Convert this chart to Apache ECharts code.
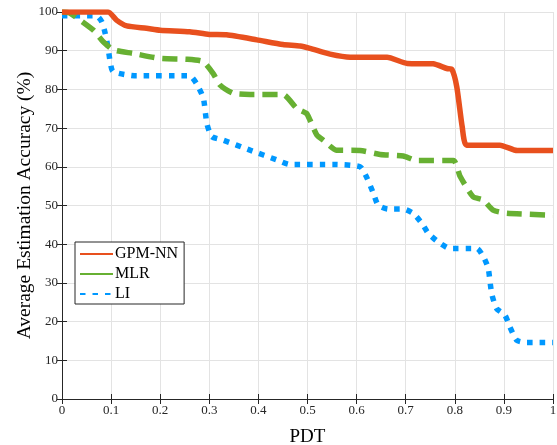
<!DOCTYPE html>
<html><head><meta charset="utf-8">
<script src="https://cdn.jsdelivr.net/npm/echarts@6/dist/echarts.min.js"></script>
<style>html,body{margin:0;padding:0;background:#fff}#c{width:557px;height:445px}</style>
</head><body><div id="c"></div>
<script>
const gpmX = [0, 0.094, 0.111, 0.132, 0.172, 0.2, 0.26, 0.3, 0.335, 0.397, 0.45, 0.485, 0.505, 0.546, 0.587, 0.662, 0.703, 0.756, 0.784, 0.794, 0.804, 0.815, 0.824, 0.892, 0.927, 1];
const gpmY = [100, 100, 97.9, 96.4, 95.8, 95.3, 94.9, 94.2, 94.1, 92.8, 91.6, 91.2, 90.6, 89.1, 88.3, 88.3, 86.7, 86.6, 85.4, 85.2, 80.7, 70.4, 65.6, 65.6, 64.2, 64.2];
const mlrX = [0, 0.016, 0.064, 0.084, 0.105, 0.145, 0.2, 0.254, 0.287, 0.308, 0.322, 0.349, 0.383, 0.45, 0.478, 0.498, 0.505, 0.519, 0.532, 0.559, 0.607, 0.648, 0.695, 0.722, 0.797, 0.811, 0.837, 0.858, 0.878, 0.906, 1];
const mlrY = [100, 99.7, 95.3, 92.3, 90.2, 89.3, 88, 87.8, 87.2, 84.1, 81.1, 79, 78.7, 78.7, 75.1, 73.8, 72.1, 68.2, 66.9, 64.3, 64.2, 63.2, 62.8, 61.6, 61.6, 57.5, 52.3, 51.4, 48.8, 48, 47.5];
const liX = [0, 0.07, 0.081, 0.088, 0.094, 0.098, 0.104, 0.152, 0.26, 0.274, 0.288, 0.295, 0.305, 0.328, 0.383, 0.437, 0.464, 0.555, 0.607, 0.62, 0.634, 0.644, 0.664, 0.695, 0.715, 0.733, 0.746, 0.766, 0.79, 0.845, 0.858, 0.868, 0.875, 0.885, 0.902, 0.912, 0.926, 0.946, 1];
const liY = [99, 99, 97.5, 94.5, 90.6, 87.2, 84.6, 83.5, 83.5, 81.5, 77.7, 71.2, 67.8, 66.9, 64.3, 61.8, 60.6, 60.6, 60, 57.4, 53.2, 50.1, 49.1, 49.1, 48, 45.4, 42.8, 40.6, 38.9, 38.9, 36.8, 33.8, 27.3, 23.4, 21.7, 18.7, 15.2, 14.6, 14.6];
const seriesNames = ['GPM-NN', 'MLR', 'LI'];
const xLabel = 'PDT';
const yLabel = 'Average Estimation Accuracy (%)';

const pair = (xs, ys) => xs.map((x, i) => [x, ys[i]]);
const font = 'Liberation Serif';
const chart = echarts.init(document.getElementById('c'), null, {renderer: 'canvas'});
const axisLine = {show: true, lineStyle: {color: '#262626', width: 1}};
const tick = {show: true, inside: true, length: 5, lineStyle: {color: '#262626'}};
chart.setOption({
  animation: false,
  backgroundColor: '#fff',
  textStyle: {fontFamily: font},
  grid: {left: 62, right: 4, top: 12, bottom: 46, containLabel: false, outerBoundsMode: 'none'},
  legend: {
    left: 75, top: 242, orient: 'vertical',
    data: [seriesNames[0], {name: seriesNames[1], lineStyle: {type: 'solid'}}, seriesNames[2]],
    itemWidth: 33, itemHeight: 14, itemGap: 4,
    padding: [4, 6, 2, 4],
    borderColor: '#262626', borderWidth: 1, backgroundColor: '#fff',
    itemStyle: {opacity: 0},
    textStyle: {fontFamily: font, fontSize: 16, color: '#000', padding: [0, 0, 0, -3]}
  },
  xAxis: [{
    type: 'value', min: 0, max: 1, interval: 0.1,
    name: xLabel, nameLocation: 'middle', nameGap: 29,
    nameTextStyle: {fontFamily: font, fontSize: 19, color: '#000'},
    axisLine: axisLine, axisTick: tick,
    axisLabel: {fontFamily: font, fontSize: 13, color: '#262626', margin: 5,
      formatter: v => String(Math.round(v * 10) / 10)},
    splitLine: {show: true, lineStyle: {color: '#e3e3e3', width: 1}}
  }, {
    type: 'value', min: 0, max: 1, interval: 0.1, position: 'top',
    axisLine: axisLine, axisTick: tick, axisLabel: {show: false}, splitLine: {show: false}
  }],
  yAxis: [{
    type: 'value', min: 0, max: 100, interval: 10,
    name: yLabel, nameLocation: 'middle', nameGap: 27, nameMoveOverlap: false,
    nameTextStyle: {fontFamily: font, fontSize: 19.5, color: '#000'},
    axisLine: axisLine, axisTick: tick,
    axisLabel: {fontFamily: font, fontSize: 13, color: '#262626', margin: 4},
    splitLine: {show: true, lineStyle: {color: '#e3e3e3', width: 1}}
  }, {
    type: 'value', min: 0, max: 100, interval: 10, position: 'right',
    axisLine: axisLine, axisTick: tick, axisLabel: {show: false}, splitLine: {show: false}
  }],
  series: [
    {name: seriesNames[0], type: 'line', data: pair(gpmX, gpmY), symbol: 'none', smooth: 0.2, z: 4,
      itemStyle: {color: '#E8501E'}, lineStyle: {color: '#E8501E', width: 5.5}},
    {name: seriesNames[1], type: 'line', data: pair(mlrX, mlrY), symbol: 'none', smooth: 0.2, z: 3,
      itemStyle: {color: '#67B032'}, lineStyle: {color: '#67B032', width: 5.5, type: [15, 8], cap: 'butt'}},
    {name: seriesNames[2], type: 'line', data: pair(liX, liY), symbol: 'none', smooth: 0.2, z: 2,
      itemStyle: {color: '#0098FF'}, lineStyle: {color: '#0098FF', width: 5.5, type: [5.5, 7], cap: 'butt'}}
  ]
});
</script></body></html>
